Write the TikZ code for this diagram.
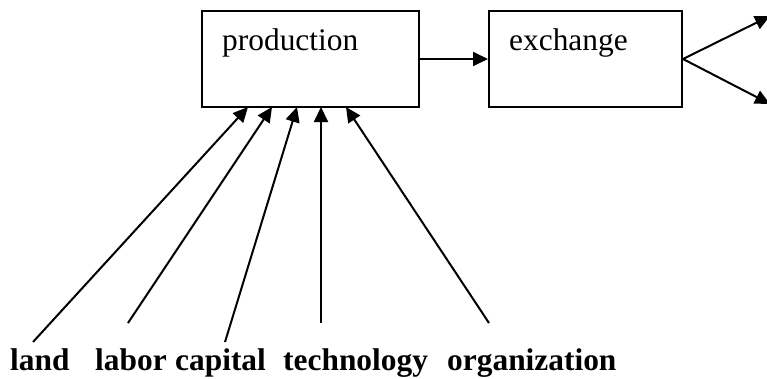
\documentclass[tikz,border=0pt]{standalone}
\usepackage{fontspec}
\setmainfont{Liberation Serif}
\usepackage{tikz}
\usetikzlibrary{arrows.meta}
\tikzset{
  box/.style={draw,line width=2pt,anchor=north west,inner sep=0pt},
  flow/.style={line width=2pt,-{Triangle[length=15pt,width=14pt]}},
  txt/.style={anchor=base west,inner sep=0pt,font=\fontsize{31.4}{36}\selectfont},
  fac/.style={anchor=base west,inner sep=0pt,font=\fontsize{31.4}{36}\selectfont\bfseries}
}
\begin{document}
\begin{tikzpicture}[x=1pt,y=-1pt]
\useasboundingbox (0,0) rectangle (767,378);
% boxes
\node[box,minimum width=217pt,minimum height=96pt] (prod) at (201,10) {};
\node[box,minimum width=193pt,minimum height=96pt] (exch) at (488,10) {};
\node[txt] (tprod) at (222,50) {production};
\node[txt] (texch) at (509,50) {exchange};
\draw[flow] (prod.east) -- (exch.west);
\coordinate (up) at (770,16);
\coordinate (down) at (770,104);
\draw[flow] (exch.east) -- (up);
\draw[flow] (exch.east) -- (down);

% factors
\node[fac] (land) at (10,370) {land};
\node[fac] (labor) at (95,370) {labor};
\node[fac] (capital) at (175,370) {capital};
\node[fac] (tech) at (283,370) {technology};
\node[fac] (org) at (447,370) {organization};
\foreach \n/\a/\b/\c in {land/33/342/248, labor/128/323/272, capital/225/342/297, tech/321/323/321, org/489/323/346}
  {\coordinate (s\n) at (\a,\b); \coordinate (e\n) at (\c,107);
   \draw[flow] (s\n) -- (e\n);}
\end{tikzpicture}
\end{document}
